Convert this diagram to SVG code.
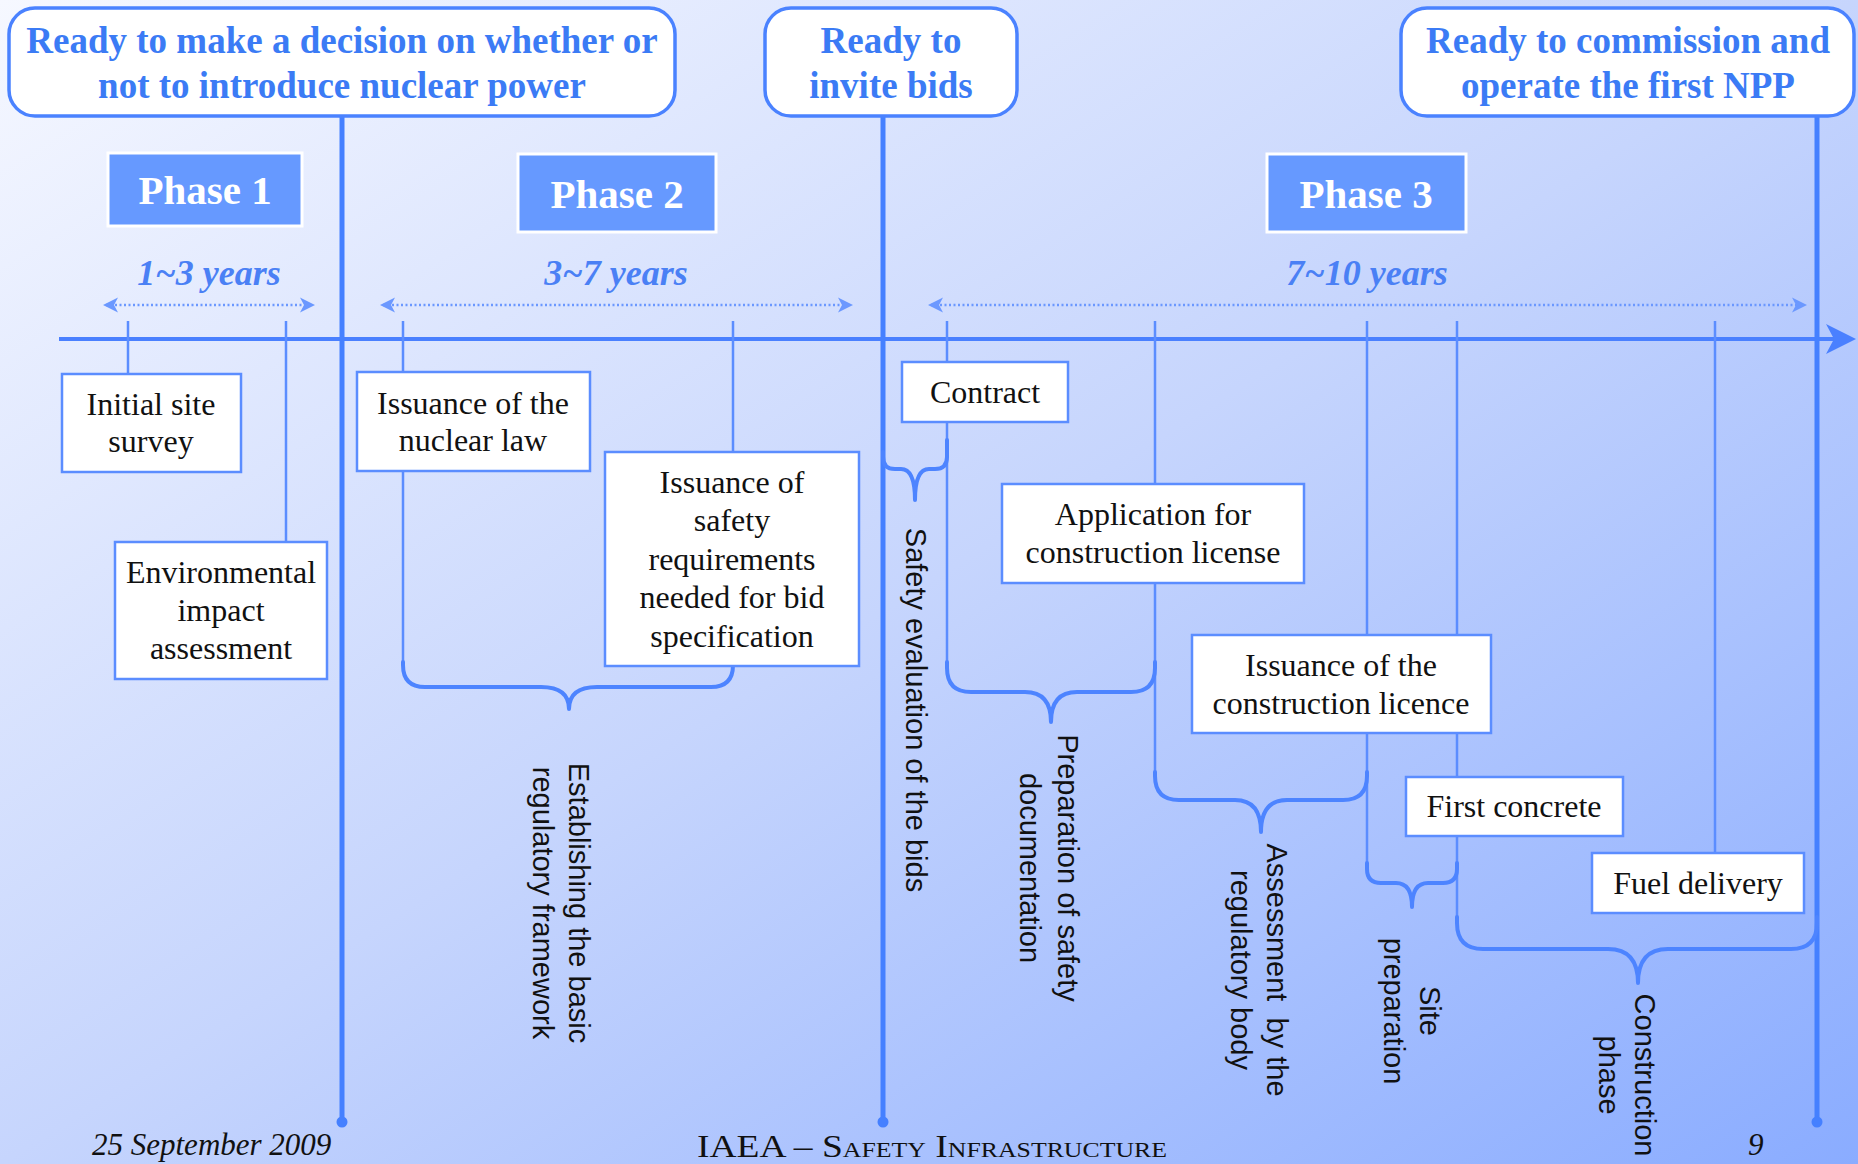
<svg xmlns="http://www.w3.org/2000/svg" width="1858" height="1164" viewBox="0 0 1858 1164">
<defs>
<linearGradient id="bg" x1="0" y1="0" x2="1" y2="1">
<stop offset="0" stop-color="#f6f8ff"/>
<stop offset="0.5" stop-color="#c6d5fd"/>
<stop offset="1" stop-color="#8aacff"/>
</linearGradient>
<marker id="da" viewBox="0 0 16 16" refX="13" refY="8" markerWidth="16" markerHeight="16" markerUnits="userSpaceOnUse" orient="auto-start-reverse">
<path d="M16,8 L1,0.5 L5,8 L1,15.5 Z" fill="#6b98ff"/>
</marker>
<style>
.title{font-family:"Liberation Serif","Times New Roman",serif;font-weight:bold;font-size:37px;fill:#3b7bf5;text-anchor:middle}
.mbox{fill:#fff;stroke:#4a82ff;stroke-width:3.5}
.phase rect{fill:#6699ff;stroke:#fff;stroke-width:3}
.phase text{font-family:"Liberation Serif","Times New Roman",serif;font-weight:bold;font-size:41px;fill:#fff;text-anchor:middle}
.dur{font-family:"Liberation Serif","Times New Roman",serif;font-weight:bold;font-style:italic;font-size:36px;fill:#4a80f5;text-anchor:middle}
.dots{stroke:#6b98ff;stroke-width:2.5;stroke-dasharray:2 2.5;fill:none}
.axis{stroke:#4a80ff;stroke-width:4;fill:none}
.mile{stroke:#4580ff;stroke-width:5;fill:none}
.tick{stroke:#5b8dff;stroke-width:2.5;fill:none}
.brace{stroke:#4d84ff;stroke-width:4;fill:none;stroke-linejoin:round;stroke-linecap:round}
.box rect{fill:#fff;stroke:#5b8dff;stroke-width:2.5}
.box text{font-family:"Liberation Serif","Times New Roman",serif;font-size:32px;fill:#111;text-anchor:middle}
.vlab text{font-family:"Liberation Sans",Arial,sans-serif;font-size:29px;fill:#111;text-anchor:middle}
.foot{font-family:"Liberation Serif","Times New Roman",serif;font-style:italic;font-size:31px;fill:#111}
</style>
</defs>
<rect width="1858" height="1164" fill="url(#bg)"/>

<g id="connectors">
<line class="axis" x1="59" y1="339" x2="1836" y2="339"/>
<path d="M1856,339 L1826,324 L1834,339 L1826,354 Z" fill="#4a80ff"/>
<line class="mile" x1="342" y1="116" x2="342" y2="1122"/>
<line class="mile" x1="883" y1="116" x2="883" y2="1122"/>
<line class="mile" x1="1817" y1="116" x2="1817" y2="1122"/>
<circle cx="342" cy="1122" r="5.5" fill="#4580ff"/>
<circle cx="883" cy="1122" r="5.5" fill="#4580ff"/>
<circle cx="1817" cy="1122" r="5.5" fill="#4580ff"/>
<line class="dots" x1="106" y1="305" x2="312" y2="305" marker-start="url(#da)" marker-end="url(#da)"/>
<line class="dots" x1="383" y1="305" x2="850" y2="305" marker-start="url(#da)" marker-end="url(#da)"/>
<line class="dots" x1="931" y1="305" x2="1804" y2="305" marker-start="url(#da)" marker-end="url(#da)"/>
<line class="tick" x1="128" y1="321" x2="128" y2="374"/>
<line class="tick" x1="286" y1="321" x2="286" y2="542"/>
<line class="tick" x1="403" y1="321" x2="403" y2="666"/>
<line class="tick" x1="733" y1="321" x2="733" y2="452"/>
<line class="tick" x1="947" y1="321" x2="947" y2="666"/>
<line class="tick" x1="1155" y1="321" x2="1155" y2="775"/>
<line class="tick" x1="1367" y1="321" x2="1367" y2="866"/>
<line class="tick" x1="1457" y1="321" x2="1457" y2="920"/>
<line class="tick" x1="1715" y1="321" x2="1715" y2="853"/>
<path class="brace" d="M403,662 L403,665 Q403,687 425,687 L541,687 Q569,687 569,709 M569,709 Q569,687 597,687 L711,687 Q733,687 733,665 L733,666"/>
<path class="brace" d="M883,452 L883,457 Q883,469 895,469 L901,469 Q915,469 915,500 M915,500 Q915,469 929,469 L935,469 Q947,469 947,457 L947,440"/>
<path class="brace" d="M947,662 L947,668 Q947,692 971,692 L1025,692 Q1051,692 1051,722 M1051,722 Q1051,692 1077,692 L1131,692 Q1155,692 1155,668 L1155,662"/>
<path class="brace" d="M1155,772 L1155,776 Q1155,800 1179,800 L1235,800 Q1261,800 1261,832 M1261,832 Q1261,800 1287,800 L1343,800 Q1367,800 1367,776 L1367,772"/>
<path class="brace" d="M1367,863 L1367,869 Q1367,883 1381,883 L1396,883 Q1412,883 1412,907 M1412,907 Q1412,883 1428,883 L1443,883 Q1457,883 1457,869 L1457,863"/>
<path class="brace" d="M1457,917 L1457,923 Q1457,949 1483,949 L1608,949 Q1638,949 1638,983 M1638,983 Q1638,949 1668,949 L1791,949 Q1817,949 1817,923 L1817,917"/>
</g>

<g id="m1"><rect class="mbox" x="9" y="8" width="666" height="108" rx="26"/>
<text class="title" x="342" y="53">Ready to make a decision on whether or</text>
<text class="title" x="342" y="98">not to introduce nuclear power</text></g>
<g id="m2"><rect class="mbox" x="765" y="8" width="252" height="108" rx="26"/>
<text class="title" x="891" y="53">Ready to</text>
<text class="title" x="891" y="98">invite bids</text></g>
<g id="m3"><rect class="mbox" x="1401" y="8" width="453" height="108" rx="26"/>
<text class="title" x="1628" y="53">Ready to commission and</text>
<text class="title" x="1628" y="98">operate the first NPP</text></g>

<g id="phase1" class="phase"><rect x="108" y="153" width="194" height="73"/><text x="205" y="204">Phase 1</text></g>
<g id="phase2" class="phase"><rect x="518" y="154" width="198" height="78"/><text x="617" y="208">Phase 2</text></g>
<g id="phase3" class="phase"><rect x="1267" y="154" width="199" height="78"/><text x="1366" y="208">Phase 3</text></g>

<g id="durations">
<text class="dur" x="209" y="285">1~3 years</text>
<text class="dur" x="616" y="285">3~7 years</text>
<text class="dur" x="1367" y="285">7~10 years</text>
</g>

<g id="b-site" class="box"><rect x="62" y="374" width="179" height="98"/><text x="151" y="415">Initial site</text><text x="151" y="452">survey</text></g>
<g id="b-env" class="box"><rect x="115" y="542" width="212" height="137"/><text x="221" y="583">Environmental</text><text x="221" y="621">impact</text><text x="221" y="659">assessment</text></g>
<g id="b-law" class="box"><rect x="357" y="372" width="233" height="99"/><text x="473" y="414">Issuance of the</text><text x="473" y="451">nuclear law</text></g>
<g id="b-req" class="box"><rect x="605" y="452" width="254" height="214"/><text x="732" y="493">Issuance of</text><text x="732" y="531">safety</text><text x="732" y="570">requirements</text><text x="732" y="608">needed for bid</text><text x="732" y="647">specification</text></g>
<g id="b-contract" class="box"><rect x="902" y="362" width="166" height="60"/><text x="985" y="403">Contract</text></g>
<g id="b-app" class="box"><rect x="1002" y="484" width="302" height="99"/><text x="1153" y="525">Application for</text><text x="1153" y="563">construction license</text></g>
<g id="b-lic" class="box"><rect x="1192" y="635" width="299" height="98"/><text x="1341" y="676">Issuance of the</text><text x="1341" y="714">construction licence</text></g>
<g id="b-concrete" class="box"><rect x="1406" y="777" width="217" height="59"/><text x="1514" y="817">First concrete</text></g>
<g id="b-fuel" class="box"><rect x="1592" y="853" width="212" height="60"/><text x="1698" y="894">Fuel delivery</text></g>

<g id="l-reg" class="vlab"><text transform="translate(569,903) rotate(90)">Establishing the basic</text><text transform="translate(533,903) rotate(90)">regulatory framework</text></g>
<g id="l-bids" class="vlab"><text transform="translate(906,710) rotate(90)">Safety evaluation of the bids</text></g>
<g id="l-doc" class="vlab"><text transform="translate(1058,868) rotate(90)">Preparation of safety</text><text transform="translate(1020,868) rotate(90)">documentation</text></g>
<g id="l-assess" class="vlab"><text transform="translate(1267,970) rotate(90)">Assessment&#160; by the</text><text transform="translate(1231,970) rotate(90)">regulatory body</text></g>
<g id="l-sitep" class="vlab"><text transform="translate(1420,1011) rotate(90)">Site</text><text transform="translate(1384,1011) rotate(90)">preparation</text></g>
<g id="l-constr" class="vlab"><text transform="translate(1635,1075) rotate(90)">Construction</text><text transform="translate(1599,1075) rotate(90)">phase</text></g>

<g id="footer">
<text class="foot" x="92" y="1155">25 September 2009</text>
<text x="697" y="1157" textLength="470" lengthAdjust="spacingAndGlyphs" style="font-family:'Liberation Serif','Times New Roman',serif;font-size:32px;font-variant:small-caps;fill:#111">IAEA – Safety Infrastructure</text>
<text class="foot" x="1748" y="1155">9</text>
</g>
</svg>
